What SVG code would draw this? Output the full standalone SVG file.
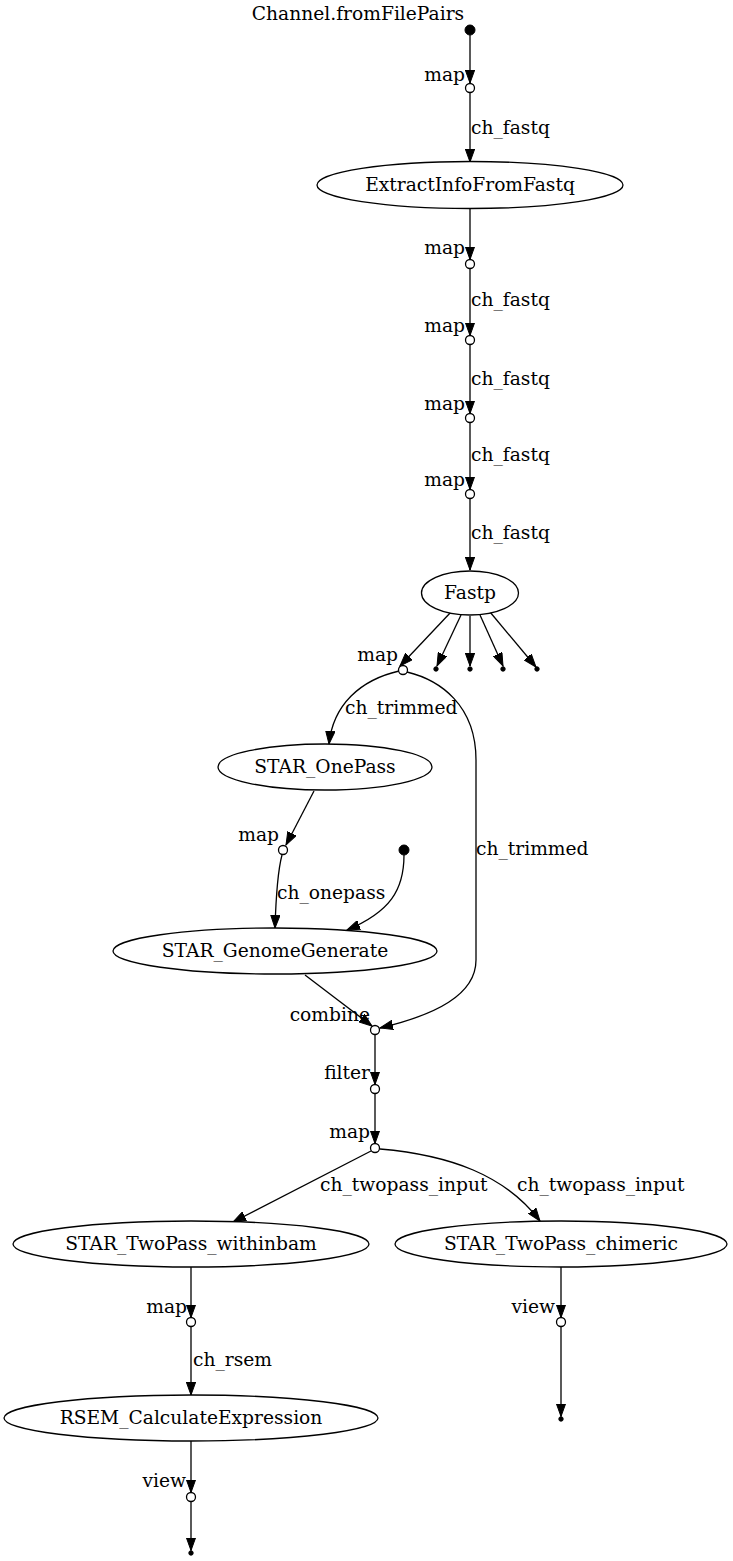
<svg xmlns="http://www.w3.org/2000/svg" width="733" height="1561" viewBox="0 0 733 1561">
<style>
text{font-family:"DejaVu Serif","Liberation Serif",serif;font-size:18.67px;fill:#000}
.e{fill:none;stroke:#000;stroke-width:1.3}
.o{fill:#fff;stroke:#000;stroke-width:1.3}
.f{fill:#000;stroke:#000;stroke-width:1}
.r{text-anchor:end}
.m{text-anchor:middle}
</style>
<defs>
<marker id="a" markerUnits="userSpaceOnUse" markerWidth="14" markerHeight="10" refX="13" refY="5" orient="auto">
<polygon points="0,0.3 13,5 0,9.7" fill="#000" stroke="#000" stroke-width="1"/>
</marker>
</defs>
<rect width="733" height="1561" fill="#fff"/>
<g id="edges">
<path class="e" d="M470,35 L470,83" marker-end="url(#a)"/>
<path class="e" d="M470,92.5 L470,162" marker-end="url(#a)"/>
<path class="e" d="M470,208 L470,259.5" marker-end="url(#a)"/>
<path class="e" d="M470,268.5 L470,335.5" marker-end="url(#a)"/>
<path class="e" d="M470,344.5 L470,413.5" marker-end="url(#a)"/>
<path class="e" d="M470,422.5 L470,489.5" marker-end="url(#a)"/>
<path class="e" d="M470,498.5 L470,570" marker-end="url(#a)"/>
<path class="e" d="M451,612 L400,666" marker-end="url(#a)"/>
<path class="e" d="M461,615 L437,666" marker-end="url(#a)"/>
<path class="e" d="M470,616 L470,666" marker-end="url(#a)"/>
<path class="e" d="M480,615 L503,666" marker-end="url(#a)"/>
<path class="e" d="M490,612 L536,667" marker-end="url(#a)"/>
<path class="e" d="M399,671 C360,680 333,705 329,744" marker-end="url(#a)"/>
<path class="e" d="M407,672 C440,680 476,705 476,760 L476,960 C476,995 435,1015 380,1028" marker-end="url(#a)"/>
<path class="e" d="M314,791 L286,845" marker-end="url(#a)"/>
<path class="e" d="M282,855 C278,870 276,895 275,928" marker-end="url(#a)"/>
<path class="e" d="M404,855 C404,890 390,912 347,930" marker-end="url(#a)"/>
<path class="e" d="M305,975 L372,1026" marker-end="url(#a)"/>
<path class="e" d="M375,1034.5 L375,1084.5" marker-end="url(#a)"/>
<path class="e" d="M375,1093.5 L375,1143.5" marker-end="url(#a)"/>
<path class="e" d="M371,1151 L233,1222" marker-end="url(#a)"/>
<path class="e" d="M380,1149 C450,1155 505,1175 540,1221" marker-end="url(#a)"/>
<path class="e" d="M191,1267 L191,1317.5" marker-end="url(#a)"/>
<path class="e" d="M191,1326.5 L191,1395" marker-end="url(#a)"/>
<path class="e" d="M191,1441 L191,1492.5" marker-end="url(#a)"/>
<path class="e" d="M191,1501.5 L191,1550.5" marker-end="url(#a)"/>
<path class="e" d="M561,1267 L561,1317.5" marker-end="url(#a)"/>
<path class="e" d="M561,1326.5 L561,1416.5" marker-end="url(#a)"/>
<text x="471" y="134">ch_fastq</text>
<text x="471" y="306">ch_fastq</text>
<text x="471" y="385">ch_fastq</text>
<text x="471" y="461">ch_fastq</text>
<text x="471" y="539">ch_fastq</text>
<text x="345" y="714">ch_trimmed</text>
<text x="476" y="855">ch_trimmed</text>
<text x="277" y="899">ch_onepass</text>
<text x="320" y="1191">ch_twopass_input</text>
<text x="517" y="1191">ch_twopass_input</text>
<text x="193" y="1366">ch_rsem</text>
</g>
<g id="n_src"><circle class="f" cx="470" cy="30" r="5"/><text class="m" x="358" y="20">Channel.fromFilePairs</text></g>
<g id="n_map1"><circle class="o" cx="470" cy="88" r="4.5"/><text class="r" x="465" y="81">map</text></g>
<g id="n_extract"><ellipse class="o" cx="470" cy="185" rx="153" ry="23.5"/><text class="m" x="470" y="191">ExtractInfoFromFastq</text></g>
<g id="n_map2"><circle class="o" cx="470" cy="264" r="4.5"/><text class="r" x="465" y="254">map</text></g>
<g id="n_map3"><circle class="o" cx="470" cy="340" r="4.5"/><text class="r" x="465" y="332">map</text></g>
<g id="n_map4"><circle class="o" cx="470" cy="418" r="4.5"/><text class="r" x="465" y="410">map</text></g>
<g id="n_map5"><circle class="o" cx="470" cy="494" r="4.5"/><text class="r" x="465" y="486">map</text></g>
<g id="n_fastp"><ellipse class="o" cx="470" cy="593" rx="48.5" ry="22"/><text class="m" x="470" y="599">Fastp</text></g>
<g id="n_map6"><circle class="o" cx="403" cy="670" r="4.5"/><text class="r" x="398" y="661">map</text></g>
<g id="n_out1"><circle class="f" cx="436" cy="669" r="2.2"/></g>
<g id="n_out2"><circle class="f" cx="470" cy="669" r="2.2"/></g>
<g id="n_out3"><circle class="f" cx="503" cy="669" r="2.2"/></g>
<g id="n_out4"><circle class="f" cx="537" cy="669" r="2.2"/></g>
<g id="n_onepass"><ellipse class="o" cx="325" cy="767" rx="107" ry="23"/><text class="m" x="325" y="773">STAR_OnePass</text></g>
<g id="n_map7"><circle class="o" cx="283" cy="850" r="4.5"/><text class="r" x="279" y="841">map</text></g>
<g id="n_src2"><circle class="f" cx="404" cy="850" r="5"/></g>
<g id="n_genome"><ellipse class="o" cx="275" cy="951" rx="162" ry="23"/><text class="m" x="275" y="957">STAR_GenomeGenerate</text></g>
<g id="n_combine"><circle class="o" cx="375" cy="1030" r="4.5"/><text class="r" x="370" y="1021">combine</text></g>
<g id="n_filter"><circle class="o" cx="375" cy="1089" r="4.5"/><text class="r" x="370" y="1079">filter</text></g>
<g id="n_map8"><circle class="o" cx="375" cy="1148" r="4.5"/><text class="r" x="370" y="1138">map</text></g>
<g id="n_within"><ellipse class="o" cx="191" cy="1244" rx="178" ry="23"/><text class="m" x="191" y="1250">STAR_TwoPass_withinbam</text></g>
<g id="n_chimeric"><ellipse class="o" cx="561" cy="1244" rx="166" ry="23"/><text class="m" x="561" y="1250">STAR_TwoPass_chimeric</text></g>
<g id="n_map9"><circle class="o" cx="191" cy="1322" r="4.5"/><text class="r" x="187" y="1313">map</text></g>
<g id="n_rsem"><ellipse class="o" cx="191" cy="1418" rx="187" ry="23"/><text class="m" x="191" y="1424">RSEM_CalculateExpression</text></g>
<g id="n_view1"><circle class="o" cx="191" cy="1497" r="4.5"/><text class="r" x="186" y="1487">view</text></g>
<g id="n_out5"><circle class="f" cx="191" cy="1553" r="2.2"/></g>
<g id="n_view2"><circle class="o" cx="561" cy="1322" r="4.5"/><text class="r" x="555" y="1313">view</text></g>
<g id="n_out6"><circle class="f" cx="561" cy="1419" r="2.2"/></g>
</svg>
